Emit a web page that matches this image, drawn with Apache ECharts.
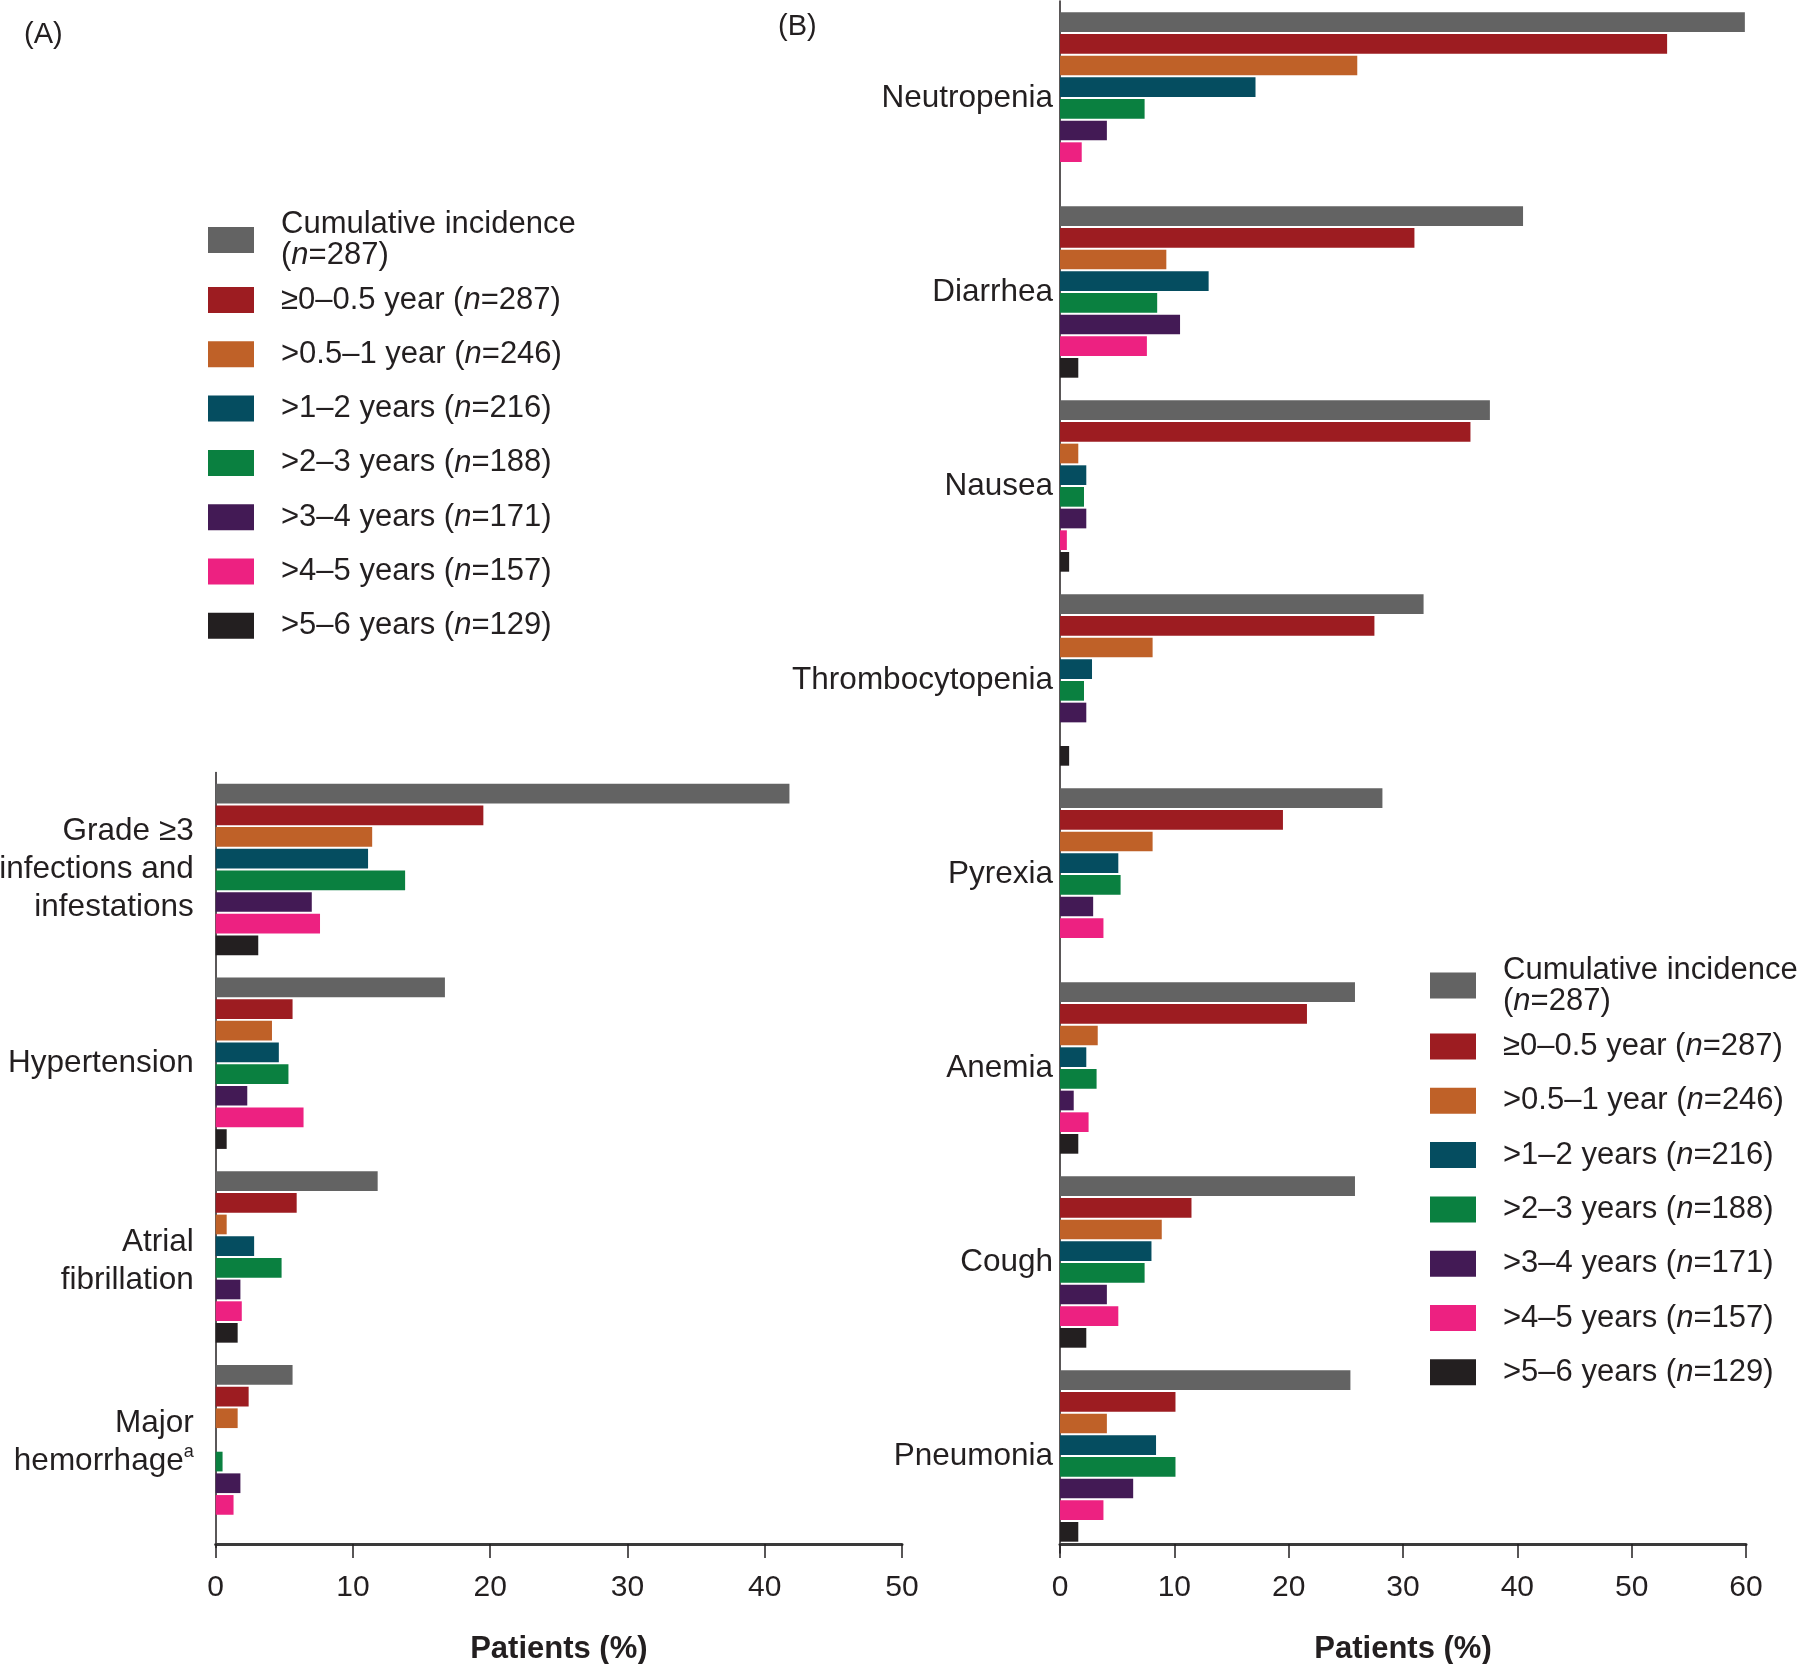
<!DOCTYPE html>
<html>
<head>
<meta charset="utf-8">
<script src="https://cdn.jsdelivr.net/npm/echarts@6/dist/echarts.min.js"></script>
<style>html,body{margin:0;padding:0;background:#fff}#c{width:1800px;height:1664px}</style>
</head>
<body>
<div id="c"></div>
<script>
// ---------- data ----------
const seriesNames = ['Cumulative incidence (n=287)', '≥0–0.5 year (n=287)', '>0.5–1 year (n=246)', '>1–2 years (n=216)', '>2–3 years (n=188)', '>3–4 years (n=171)', '>4–5 years (n=157)', '>5–6 years (n=129)'];
const seriesColors = ['#636363', '#9d1c21', '#bf6128', '#054d60', '#0a8040', '#431a55', '#ed2181', '#231f20'];

const categoriesA = ['Grade ≥3 infections and infestations', 'Hypertension', 'Atrial fibrillation', 'Major hemorrhage'];
const cumulativeA = [41.8, 16.7, 11.8, 5.6];
const y0to05A = [19.5, 5.6, 5.9, 2.4];
const y05to1A = [11.4, 4.1, 0.8, 1.6];
const y1to2A = [11.1, 4.6, 2.8, null];
const y2to3A = [13.8, 5.3, 4.8, 0.5];
const y3to4A = [7.0, 2.3, 1.8, 1.8];
const y4to5A = [7.6, 6.4, 1.9, 1.3];
const y5to6A = [3.1, 0.8, 1.6, null];

const categoriesB = ['Neutropenia', 'Diarrhea', 'Nausea', 'Thrombocytopenia', 'Pyrexia', 'Anemia', 'Cough', 'Pneumonia'];
const cumulativeB = [59.9, 40.5, 37.6, 31.8, 28.2, 25.8, 25.8, 25.4];
const y0to05B = [53.1, 31.0, 35.9, 27.5, 19.5, 21.6, 11.5, 10.1];
const y05to1B = [26.0, 9.3, 1.6, 8.1, 8.1, 3.3, 8.9, 4.1];
const y1to2B = [17.1, 13.0, 2.3, 2.8, 5.1, 2.3, 8.0, 8.4];
const y2to3B = [7.4, 8.5, 2.1, 2.1, 5.3, 3.2, 7.4, 10.1];
const y3to4B = [4.1, 10.5, 2.3, 2.3, 2.9, 1.2, 4.1, 6.4];
const y4to5B = [1.9, 7.6, 0.6, null, 3.8, 2.5, 5.1, 3.8];
const y5to6B = [null, 1.6, 0.8, 0.8, null, 1.6, 2.3, 1.6];

const xTicksA = {min: 0, max: 50, interval: 10};
const xTicksB = {min: 0, max: 60, interval: 10};
const axisTitle = 'Patients (%)';

// ---------- chart ----------
const FONT = '"Liberation Sans", Arial, sans-serif';
const TXT = '#231f20';
const dataA = [cumulativeA, y0to05A, y05to1A, y1to2A, y2to3A, y3to4A, y4to5A, y5to6A];
const dataB = [cumulativeB, y0to05B, y05to1B, y1to2B, y2to3B, y3to4B, y4to5B, y5to6B];

const labelBreaksA = {
  'Grade ≥3 infections and infestations': ['Grade ≥3', 'infections and', 'infestations'],
  'Hypertension': ['Hypertension'],
  'Atrial fibrillation': ['Atrial', 'fibrillation'],
  'Major hemorrhage': ['Major', 'hemorrhage']
};
const footnoteA = {'Major hemorrhage': 'a'};
const labelPadA = {'Atrial fibrillation': [8, 0, 0, 0], 'Major hemorrhage': [0, 0, 16, 0]};

function legendFormatter(name) {
  const m = name.match(/^(.*)\((n)=(\d+)\)$/);
  const head = m[1].trim();
  if (head === 'Cumulative incidence') {
    return '{t2|' + head + '}\n{t2|(}{i2|n}{t2|=' + m[3] + ')}';
  }
  return '{t|' + head + ' (}{i|n}{t|=' + m[3] + ')}';
}
const legendRich = {
  t: {fontSize: 31, fontFamily: FONT, color: TXT, lineHeight: 28},
  i: {fontSize: 31, fontFamily: FONT, color: TXT, lineHeight: 28, fontStyle: 'italic'},
  t2: {fontSize: 31, fontFamily: FONT, color: TXT, lineHeight: 31},
  i2: {fontSize: 31, fontFamily: FONT, color: TXT, lineHeight: 31, fontStyle: 'italic'}
};
function mkLegend(data, left, top) {
  return {
    data: data, orient: 'vertical', left: left, top: top, padding: 0,
    itemWidth: 46, itemHeight: 26, itemGap: 23.3, selectedMode: false,
    icon: 'rect', formatter: legendFormatter,
    textStyle: {fontSize: 31, fontFamily: FONT, color: TXT, padding: [0, 0, 0, 22], rich: legendRich}
  };
}

function mkSeries(data, axisIdx) {
  return data.map((arr, k) => ({
    name: seriesNames[k], type: 'bar',
    xAxisIndex: axisIdx, yAxisIndex: axisIdx,
    data: arr, barWidth: 19.7, barGap: '10%',
    itemStyle: {color: seriesColors[k]},
    emphasis: {disabled: true}, animation: false
  }));
}

function mkXAxis(idx, ticks, offset) {
  return {
    type: 'value', gridIndex: idx, min: ticks.min, max: ticks.max, interval: ticks.interval,
    offset: offset,
    name: axisTitle, nameLocation: 'middle', nameGap: 90,
    nameTextStyle: {fontSize: 31, fontWeight: 'bold', fontFamily: FONT, color: TXT},
    axisLine: {show: true, lineStyle: {color: '#3a3a3a', width: 3}},
    axisTick: {show: true, length: 14, lineStyle: {color: '#231f20', width: 1.5}},
    axisLabel: {fontSize: 30, fontFamily: FONT, color: TXT, margin: 28.5},
    splitLine: {show: false}
  };
}

const categoryDataA = categoriesA.map(c => labelPadA[c] ? {value: c, textStyle: {padding: labelPadA[c]}} : c);

const option = {
  backgroundColor: '#fff',
  animation: false,
  title: [
    {text: '(A)', left: 24, top: 20, padding: 0, textStyle: {fontSize: 29, fontWeight: 'normal', fontFamily: FONT, color: TXT}},
    {text: '(B)', left: 778, top: 12, padding: 0, textStyle: {fontSize: 29, fontWeight: 'normal', fontFamily: FONT, color: TXT}}
  ],
  legend: [
    mkLegend([seriesNames[0]], 208, 209),
    mkLegend(seriesNames.slice(1), 208, 284.5),
    mkLegend([seriesNames[0]], 1430, 954.5),
    mkLegend(seriesNames.slice(1), 1430, 1031)
  ],
  grid: [
    {left: 215.7, top: 772.6, width: 686.3, height: 775, outerBoundsMode: 'none', containLabel: false},
    {left: 1060, top: 1, width: 686, height: 1552, outerBoundsMode: 'none', containLabel: false}
  ],
  xAxis: [mkXAxis(0, xTicksA, -3.6), mkXAxis(1, xTicksB, -9)],
  yAxis: [
    {
      type: 'category', gridIndex: 0, data: categoryDataA, inverse: true,
      axisLine: {show: true, lineStyle: {color: '#231f20', width: 1.5}},
      axisTick: {show: false},
      axisLabel: {
        margin: 22, align: 'right',
        formatter: function (v) {
          const lines = labelBreaksA[v].map(s => '{t|' + s + '}');
          if (footnoteA[v]) lines[lines.length - 1] += '{sup|' + footnoteA[v] + '}';
          return lines.join('\n');
        },
        rich: {
          t: {fontSize: 31.5, fontFamily: FONT, color: TXT, lineHeight: 38, align: 'right'},
          sup: {fontSize: 18, fontFamily: FONT, color: TXT, lineHeight: 26, verticalAlign: 'top', align: 'right'}
        }
      }
    },
    {
      type: 'category', gridIndex: 1, data: categoriesB, inverse: true,
      axisLine: {show: true, lineStyle: {color: '#231f20', width: 1.5}},
      axisTick: {show: false},
      axisLabel: {margin: 7, fontSize: 31.5, fontFamily: FONT, color: TXT}
    }
  ],
  series: mkSeries(dataA, 0).concat(mkSeries(dataB, 1))
};

const chart = echarts.init(document.getElementById('c'), null, {renderer: 'canvas'});
chart.setOption(option);
</script>
</body>
</html>
